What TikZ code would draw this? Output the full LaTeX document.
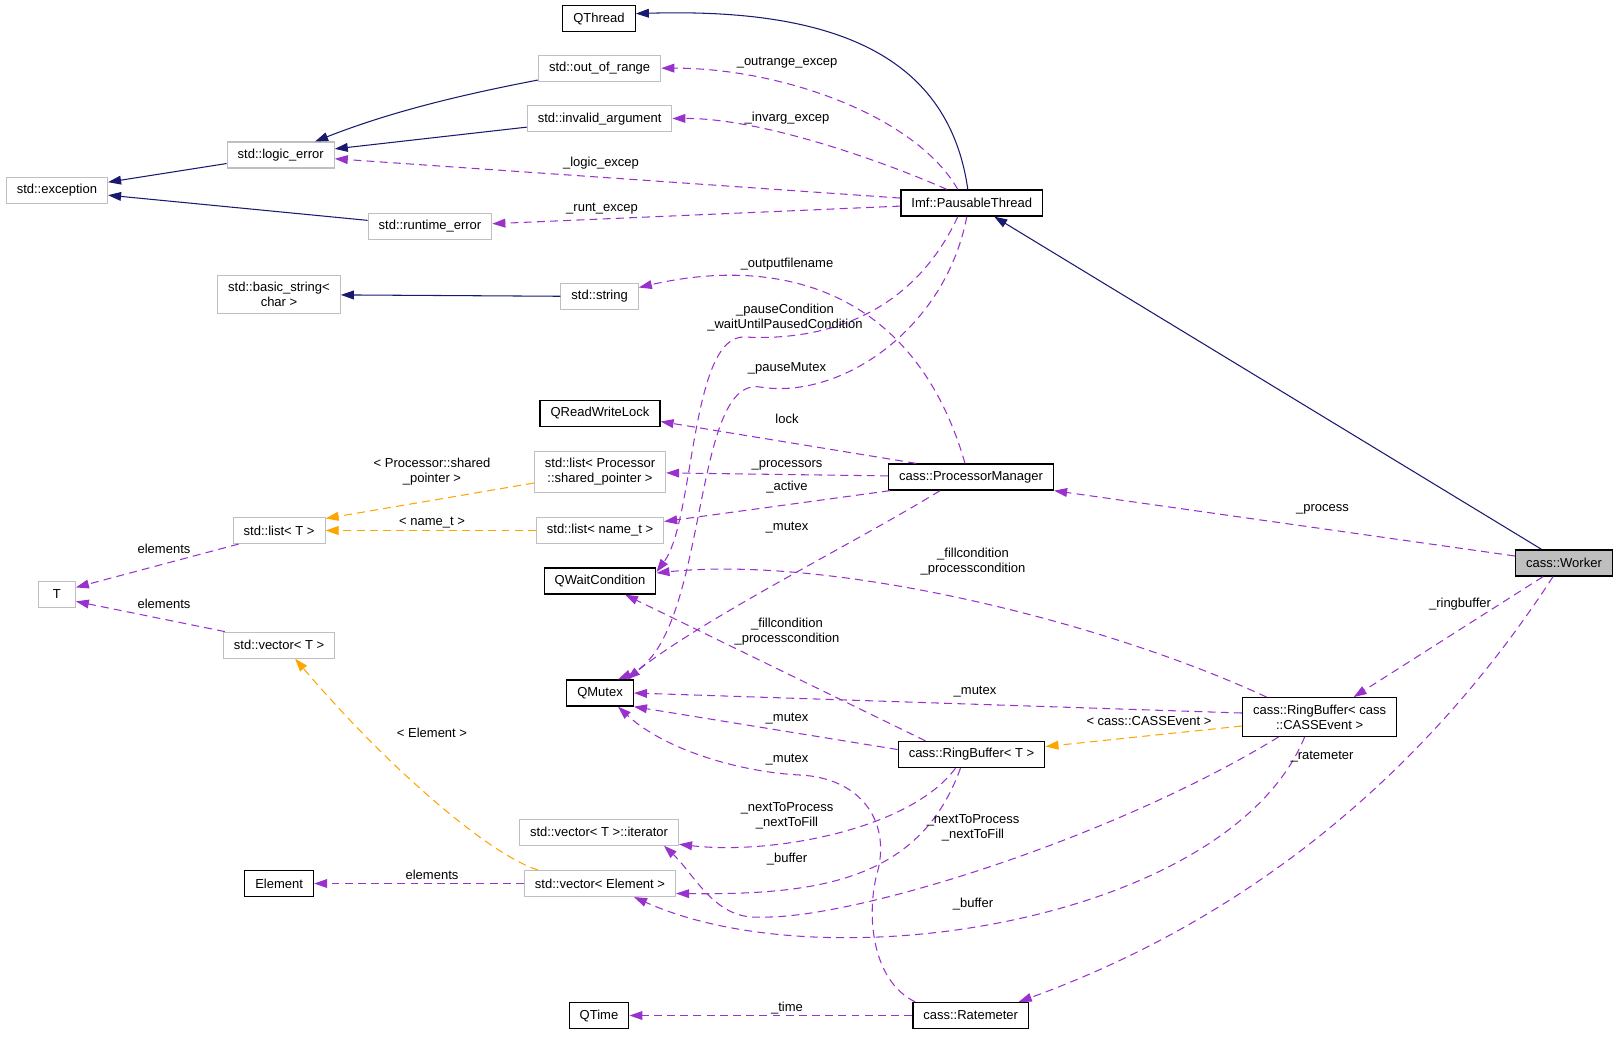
\documentclass[tikz,border=0pt]{standalone}
\usepackage{fontspec}
\setmainfont{Liberation Sans}
\usetikzlibrary{arrows.meta,calc}

\definecolor{inhblue}{RGB}{25,25,112}
\definecolor{memberpurple}{RGB}{153,50,204}
\definecolor{tplorange}{RGB}{255,165,0}
\definecolor{boxgray}{RGB}{191,191,191}

\begin{document}
\begin{tikzpicture}[x=0.02cm, y=-0.02cm,
  every node/.style={font=\fontsize{7.4}{8.5}\selectfont},
  cls/.style={draw=black, line width=0.75pt, inner xsep=6pt, inner ysep=3pt, minimum height=14.8pt, align=center},
  ext/.style={cls, draw=boxgray, line width=0.6pt},
  two/.style={inner ysep=4pt},
  lbl/.style={inner sep=0pt, align=center},
  inherit/.style={draw=inhblue, line width=0.6pt, -{Triangle[length=7.4pt,width=5pt]}},
  member/.style={draw=memberpurple, line width=0.6pt, dash pattern=on 4.5pt off 3pt, -{Triangle[length=7.4pt,width=5pt]}},
  templ/.style={member, draw=tplorange}]
\path[use as bounding box] (0,0) rectangle (1621,1036);
\node[cls] (thread) at (599,18.6) {QThread};
\node[ext] (outrange) at (599.6,68.2) {std::out\_of\_range};
\node[ext] (invarg) at (599.6,118.9) {std::invalid\_argument};
\node[ext] (logicerr) at (280.7,155) {std::logic\_error};
\node[ext] (exc) at (56.9,190.2) {std::exception};
\node[ext] (runterr) at (430,226.4) {std::runtime\_error};
\node[cls] (pausable) at (971.8,203) {Imf::PausableThread};
\node[ext, two] (basicstr) at (279,294.5) {std::basic\_string<\\char >};
\node[ext] (str) at (599.6,296.5) {std::string};
\node[cls] (rwlock) at (600,413.5) {QReadWriteLock};
\node[ext, two] (listproc) at (600,472) {std::list< Processor\\::shared\_pointer >};
\node[ext] (listT) at (279.1,530.5) {std::list< T >};
\node[ext] (listname) at (600,530.5) {std::list< name\_t >};
\node[cls] (manager) at (971,477) {cass::ProcessorManager};
\node[cls] (waitcond) at (600,581) {QWaitCondition};
\node[ext, minimum width=21pt] (T) at (56.9,594.4) {T};
\node[cls, fill=boxgray] (worker) at (1564,563) {cass::Worker};
\node[ext] (vecT) at (279.1,645.1) {std::vector< T >};
\node[cls] (mutex) at (600,693) {QMutex};
\node[cls, two] (ringcass) at (1319.6,717) {cass::RingBuffer< cass\\::CASSEvent >};
\node[cls] (ringT) at (971.5,754.5) {cass::RingBuffer< T >};
\node[ext] (veciter) at (599,832.2) {std::vector< T >::iterator};
\node[cls] (element) at (279.1,883.5) {Element};
\node[ext] (vecelem) at (600,883.5) {std::vector< Element >};
\node[cls] (qtime) at (599,1015.5) {QTime};
\node[cls] (ratemeter) at (970.7,1015.5) {cass::Ratemeter};

\draw[inherit] (logicerr) -- (exc);
\draw[inherit] (runterr) -- (exc);
\draw[inherit] (outrange) .. controls (460,95) and (390,112) .. (logicerr);
\draw[inherit] (invarg) -- (logicerr);
\draw[inherit] (str) -- (basicstr);
\draw[inherit] ($(pausable.north)+(-4,0)$) .. controls (948,50) and (825,8) .. ($(thread.east)+(0,-5)$);
\draw[inherit] (worker) -- (pausable);

\draw[member] ($(pausable.north)+(-14,0)$) .. controls (915,115) and (780,68) .. (outrange);
\draw[member] ($(pausable.north)+(-25,0)$) .. controls (880,160) and (760,118) .. (invarg);
\draw[member] (pausable) -- (logicerr);
\draw[member] (pausable) -- (runterr);
\draw[member] ($(manager.north)+(-6,0)$) .. controls (915,290) and (780,255) .. ($(str.east)+(0,-9)$);
\draw[member] ($(pausable.south)+(-14,0)$) .. controls (905,330) and (800,340) .. (745,337) .. controls (690,334) and (695,520) .. ($(waitcond.east)+(0,-9)$);
\draw[member] ($(pausable.south)+(-5,0)$) .. controls (945,330) and (840,400) .. (760,387) .. controls (690,376) and (710,640) .. ($(mutex.north)+(18,0)$);
\draw[member] ($(manager.north)+(-55,0)$) -- ($(rwlock.east)+(0,8)$);
\draw[member] (manager) -- (listproc);
\draw[member] ($(manager.south west)+(2,0)$) -- ($(listname.east)+(0,-9)$);
\draw[member] ($(manager.south)+(-31,0)$) .. controls (860,540) and (700,620) .. ($(mutex.north)+(27,0)$);
\draw[member] ($(worker.west)+(0,-7)$) -- (manager.south east);
\draw[member] ($(ringcass.north)+(-53,0)$) .. controls (1100,620) and (830,555) .. ($(waitcond.east)+(0,-8)$);
\draw[member] ($(ringT.north)+(-46,0)$) -- ($(waitcond.south)+(25,0)$);
\draw[member] ($(ringcass.west)+(0,-4)$) -- (mutex.east);
\draw[member] ($(ringT.west)+(0,-5)$) -- (mutex.south east);
\draw[member] ($(ratemeter.north west)+(3,0)$) .. controls (870,980) and (866,910) .. (878,870) .. controls (890,820) and (860,778) .. (800,775) .. controls (740,772) and (665,750) .. ($(mutex.south)+(18,0)$);
\draw[member] ($(ringT.south)+(-16,0)$) .. controls (910,830) and (770,855) .. ($(veciter.east)+(0,12)$);
\draw[member] ($(ringT.south)+(-11,0)$) .. controls (920,880) and (820,895) .. ($(vecelem.east)+(0,10)$);
\draw[member] ($(ringcass.south)+(-41,0)$) .. controls (1110,840) and (850,920) .. (760,917) .. controls (715,920) and (695,875) .. ($(veciter.south)+(65,0)$);
\draw[member] ($(ringcass.south)+(-15,0)$) .. controls (1230,920) and (830,985) .. ($(vecelem.south)+(34,0)$);
\draw[member] ($(worker.south)+(-21,0)$) -- ($(ringcass.north)+(34,0)$);
\draw[member] ($(worker.south)+(-11,0)$) .. controls (1422,778) and (1244,920) .. ($(ratemeter.north)+(48,0)$);
\draw[member] (ratemeter) -- (qtime);
\draw[member] ($(listT.south west)+(6,0)$) -- ($(T.east)+(0,-7)$);
\draw[member] ($(vecT.north west)+(2,0)$) -- ($(T.east)+(0,7)$);
\draw[member] (vecelem) -- (element);

\draw[templ] ($(listproc.west)+(0,11)$) -- ($(listT.east)+(0,-12)$);
\draw[templ] (listname) -- (listT);
\draw[templ] ($(vecelem.north)+(-62,0)$) .. controls (490,855) and (390,770) .. ($(vecT.south)+(16,0)$);
\draw[templ] ($(ringcass.west)+(0,9)$) -- ($(ringT.east)+(0,-8)$);

\node[lbl] (loutrange) at (787,62.5) {\_outrange\_excep};
\node[lbl] (linvarg) at (787,118.5) {\_invarg\_excep};
\node[lbl] (llogic) at (601,163.5) {\_logic\_excep};
\node[lbl] (lrunt) at (602,208.5) {\_runt\_excep};
\node[lbl] (lfilename) at (787,264.5) {\_outputfilename};
\node[lbl] (lpausecond) at (785,317.5) {\_pauseCondition\\\_waitUntilPausedCondition};
\node[lbl] (lpausemutex) at (787,368) {\_pauseMutex};
\node[lbl] (llock) at (787,418.5) {lock};
\node[lbl] (lprocessors) at (787,465) {\_processors};
\node[lbl] (lactive) at (787,487) {\_active};
\node[lbl] (lmutexmgr) at (787,527.5) {\_mutex};
\node[lbl] (lfillcass) at (973,561.5) {\_fillcondition\\\_processcondition};
\node[lbl] (lfillring) at (787,632) {\_fillcondition\\\_processcondition};
\node[lbl] (lmutexcass) at (975,691.5) {\_mutex};
\node[lbl] (lmutexring) at (787,719) {\_mutex};
\node[lbl] (lmutexrate) at (787,759.5) {\_mutex};
\node[lbl] (lnextring) at (787,816) {\_nextToProcess\\\_nextToFill};
\node[lbl] (lbufring) at (787,859.5) {\_buffer};
\node[lbl] (lnextcass) at (973,828) {\_nextToProcess\\\_nextToFill};
\node[lbl] (lbufcass) at (973,904.5) {\_buffer};
\node[lbl] (ltime) at (787,1008.5) {\_time};
\node[lbl] (lprocess) at (1322.5,509) {\_process};
\node[lbl] (lringbuf) at (1460,604.5) {\_ringbuffer};
\node[lbl] (lratemeter) at (1322,757) {\_ratemeter};
\node[lbl] (lcassevent) at (1149,721) {< cass::CASSEvent >};
\node[lbl] (lprocshared) at (432,472) {< Processor::shared\\\_pointer >};
\node[lbl] (lnamet) at (432,523) {< name\_t >};
\node[lbl] (lelemlist) at (164,549) {elements};
\node[lbl] (lelemvec) at (164,604) {elements};
\node[lbl] (lelement) at (432,733) {< Element >};
\node[lbl] (lelements) at (432,875) {elements};
\end{tikzpicture}
\end{document}
